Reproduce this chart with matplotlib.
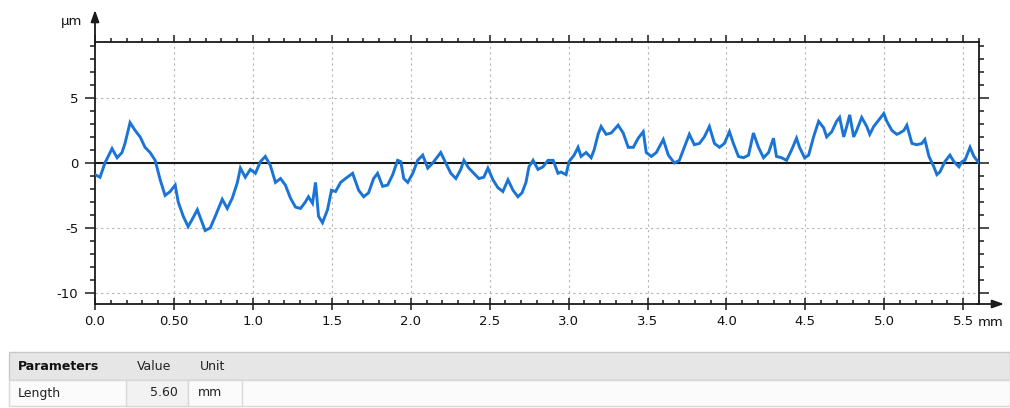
import matplotlib
matplotlib.use("Agg")
import matplotlib.pyplot as plt
from matplotlib.patches import Rectangle
from matplotlib.ticker import MultipleLocator, FixedLocator, FixedFormatter

# Profile trace: position along the surface (mm) and height (µm)
x_mm = [0.000, 0.032, 0.063, 0.108, 0.140, 0.171, 0.190, 0.222, 0.254, 0.286,
        0.317, 0.349, 0.381, 0.413, 0.444, 0.476, 0.508, 0.527, 0.559, 0.590,
        0.622, 0.648, 0.679, 0.698, 0.730, 0.762, 0.806, 0.838, 0.870, 0.902,
        0.921, 0.952, 0.984, 1.016, 1.048, 1.079, 1.111, 1.143, 1.175, 1.206,
        1.238, 1.270, 1.302, 1.333, 1.352, 1.378, 1.397, 1.416, 1.441, 1.473,
        1.498, 1.524, 1.556, 1.587, 1.632, 1.670, 1.702, 1.733, 1.765, 1.790,
        1.822, 1.854, 1.886, 1.917, 1.937, 1.956, 1.981, 2.013, 2.044, 2.076,
        2.108, 2.140, 2.171, 2.190, 2.222, 2.254, 2.286, 2.317, 2.337, 2.368,
        2.400, 2.432, 2.463, 2.489, 2.521, 2.552, 2.584, 2.616, 2.648, 2.679,
        2.705, 2.730, 2.749, 2.775, 2.806, 2.838, 2.870, 2.902, 2.933, 2.952,
        2.984, 3.003, 3.035, 3.060, 3.079, 3.111, 3.143, 3.162, 3.187, 3.206,
        3.238, 3.270, 3.314, 3.346, 3.378, 3.410, 3.441, 3.473, 3.492, 3.524,
        3.556, 3.600, 3.632, 3.670, 3.702, 3.733, 3.765, 3.797, 3.829, 3.860,
        3.892, 3.924, 3.956, 3.987, 4.019, 4.044, 4.076, 4.108, 4.140, 4.171,
        4.203, 4.235, 4.267, 4.298, 4.317, 4.349, 4.381, 4.413, 4.444, 4.463,
        4.495, 4.521, 4.552, 4.584, 4.616, 4.635, 4.667, 4.698, 4.717, 4.743,
        4.762, 4.781, 4.806, 4.825, 4.857, 4.889, 4.908, 4.933, 4.965, 4.997,
        5.016, 5.048, 5.079, 5.098, 5.124, 5.143, 5.175, 5.206, 5.238, 5.257,
        5.283, 5.314, 5.333, 5.352, 5.384, 5.416, 5.441, 5.473, 5.492, 5.511,
        5.543, 5.568, 5.587, 5.600]
z_um = [-0.9, -1.1, 0.0, 1.1, 0.4, 0.8, 1.5, 3.1, 2.5, 2.0,
        1.2, 0.8, 0.2, -1.3, -2.5, -2.2, -1.7, -3.0, -4.1, -4.9,
        -4.2, -3.6, -4.6, -5.2, -5.0, -4.1, -2.8, -3.5, -2.7, -1.5,
        -0.4, -1.1, -0.5, -0.8, 0.1, 0.5, -0.2, -1.5, -1.2, -1.7,
        -2.7, -3.4, -3.5, -3.0, -2.6, -3.1, -1.5, -4.1, -4.6, -3.6,
        -2.1, -2.2, -1.5, -1.2, -0.8, -2.1, -2.6, -2.3, -1.2, -0.8,
        -1.8, -1.7, -0.9, 0.2, 0.1, -1.2, -1.5, -0.8, 0.2, 0.6,
        -0.4, 0.0, 0.5, 0.8, 0.0, -0.8, -1.2, -0.5, 0.2, -0.4,
        -0.8, -1.2, -1.1, -0.4, -1.3, -1.9, -2.2, -1.3, -2.1, -2.6,
        -2.3, -1.5, -0.3, 0.2, -0.5, -0.3, 0.2, 0.2, -0.8, -0.7,
        -0.9, 0.1, 0.6, 1.2, 0.5, 0.8, 0.4, 1.0, 2.2, 2.8,
        2.2, 2.3, 2.9, 2.3, 1.2, 1.2, 1.9, 2.4, 0.8, 0.5,
        0.8, 1.8, 0.6, 0.0, 0.2, 1.2, 2.2, 1.4, 1.5, 2.0,
        2.8, 1.5, 1.2, 1.5, 2.4, 1.5, 0.5, 0.4, 0.6, 2.3,
        1.2, 0.4, 0.8, 1.9, 0.5, 0.4, 0.2, 1.0, 1.9, 1.2,
        0.4, 0.6, 2.0, 3.2, 2.7, 2.0, 2.4, 3.2, 3.5, 2.0,
        2.8, 3.7, 2.0, 2.5, 3.5, 2.8, 2.2, 2.8, 3.3, 3.8,
        3.2, 2.5, 2.2, 2.3, 2.5, 2.9, 1.5, 1.4, 1.5, 1.8,
        0.5, -0.3, -0.9, -0.7, 0.1, 0.6, 0.1, -0.3, 0.1, 0.2,
        1.2, 0.5, 0.2, 0.0]

x_ticks = [0.0, 0.5, 1.0, 1.5, 2.0, 2.5, 3.0, 3.5, 4.0, 4.5, 5.0, 5.5]
x_tick_labels = ["0.0", "0.50", "1.0", "1.5", "2.0", "2.5", "3.0", "3.5",
                 "4.0", "4.5", "5.0", "5.5"]
y_ticks = [-10, -5, 0, 5]
y_tick_labels = ["-10", "-5", "0", "5"]

length_mm = 5.60
table_header = ["Parameters", "Value", "Unit"]
table_row = ["Length", f"{length_mm:.2f}", "mm"]

W, H = 1010, 408
fig = plt.figure(figsize=(W / 100, H / 100), dpi=100)
fig.patch.set_facecolor("white")


def fpx(x, y):
    """Pixel position (from top-left) to figure fraction."""
    return x / W, 1 - y / H


left, top, right, bottom = 95, 42, 979, 304
ax = fig.add_axes([left / W, 1 - bottom / H, (right - left) / W, (bottom - top) / H])

line_color = "#1a74d6"
ax.plot(x_mm, z_um, color=line_color, lw=2.1, solid_joinstyle="miter", zorder=3)
ax.axhline(0, color="#1a1a1a", lw=1.5, zorder=2)

ax.set_xlim(0, length_mm)
ax.set_ylim(-10.85, 9.3)

ax.xaxis.set_major_locator(FixedLocator(x_ticks))
ax.xaxis.set_major_formatter(FixedFormatter(x_tick_labels))
ax.xaxis.set_minor_locator(MultipleLocator(0.1))
ax.yaxis.set_major_locator(FixedLocator(y_ticks))
ax.yaxis.set_major_formatter(FixedFormatter(y_tick_labels))
ax.yaxis.set_minor_locator(MultipleLocator(1))

# dotted grid at the major positions, except the zero line
for xv in x_ticks[1:]:
    ax.axvline(xv, color="#b4b4b4", lw=0.8, ls=(0, (2, 3)), zorder=1)
for yv in y_ticks:
    if yv != 0:
        ax.axhline(yv, color="#b4b4b4", lw=0.8, ls=(0, (2, 3)), zorder=1)

for s in ax.spines.values():
    s.set_color("#1a1a1a")
    s.set_linewidth(1.3)

ax.tick_params(axis="both", which="both", colors="#1a1a1a", width=1.1,
               labelsize=9.5, labelcolor="#111111")
ax.tick_params(axis="x", which="major", direction="inout", length=8,
               top=True, bottom=True, pad=4)
ax.tick_params(axis="x", which="minor", direction="in", length=3,
               top=True, bottom=True)
ax.tick_params(axis="y", which="major", direction="out", length=7,
               left=True, right=True, pad=5)
ax.tick_params(axis="y", which="minor", direction="out", length=3.5,
               left=True, right=True)
major_x = ax.xaxis.get_major_ticks()
for t in major_x + ax.xaxis.get_minor_ticks():
    t.tick2line.set_markersize(5 if t in major_x else 3)
    t.tick2line.set_marker(2)  # upward tick on the top spine

# axis arrows and units
ax.annotate("", xy=fpx(95, 10), xytext=fpx(95, 44), xycoords="figure fraction",
            textcoords="figure fraction",
            arrowprops=dict(arrowstyle="-|>,head_length=0.7,head_width=0.25",
                            color="#1a1a1a", lw=1.3, shrinkA=0, shrinkB=0))
ax.annotate("", xy=fpx(1004, 304), xytext=fpx(977, 304), xycoords="figure fraction",
            textcoords="figure fraction",
            arrowprops=dict(arrowstyle="-|>,head_length=0.7,head_width=0.25",
                            color="#1a1a1a", lw=1.3, shrinkA=0, shrinkB=0))
fig.text(*fpx(72, 22), "µm", fontsize=9.5, color="#111111", ha="center", va="center")
fig.text(*fpx(991, 323), "mm", fontsize=9.5, color="#111111", ha="center", va="center")

# parameter table below the plot
hdr_top, hdr_bot, row_bot = 352, 380, 406
fig.add_artist(Rectangle(fpx(9, hdr_bot), (1010 - 9) / W, (hdr_bot - hdr_top) / H,
                         transform=fig.transFigure, facecolor="#e6e6e6",
                         edgecolor="#c8c8c8", lw=1.0))
fig.add_artist(Rectangle(fpx(9, row_bot), (1010 - 9) / W, (row_bot - hdr_bot) / H,
                         transform=fig.transFigure, facecolor="#fbfbfb",
                         edgecolor="#d8d8d8", lw=1.0))
fig.add_artist(Rectangle(fpx(126, row_bot), (188 - 126) / W, (row_bot - hdr_bot) / H,
                         transform=fig.transFigure, facecolor="#f2f2f2",
                         edgecolor="#d8d8d8", lw=1.0))
fig.add_artist(Rectangle(fpx(188, row_bot), (242 - 188) / W, (row_bot - hdr_bot) / H,
                         transform=fig.transFigure, facecolor="#fbfbfb",
                         edgecolor="#d8d8d8", lw=1.0))

hy = (hdr_top + hdr_bot) / 2
ry = (hdr_bot + row_bot) / 2
fig.text(*fpx(18, hy), table_header[0], fontsize=9, fontweight="bold",
         color="#111111", ha="left", va="center")
fig.text(*fpx(137, hy), table_header[1], fontsize=9, color="#222222",
         ha="left", va="center")
fig.text(*fpx(200, hy), table_header[2], fontsize=9, color="#222222",
         ha="left", va="center")
fig.text(*fpx(18, ry), table_row[0], fontsize=9, color="#222222",
         ha="left", va="center")
fig.text(*fpx(178, ry), table_row[1], fontsize=9, color="#222222",
         ha="right", va="center")
fig.text(*fpx(198, ry), table_row[2], fontsize=9, color="#222222",
         ha="left", va="center")

fig.savefig("out.png", dpi=100, facecolor="white")
